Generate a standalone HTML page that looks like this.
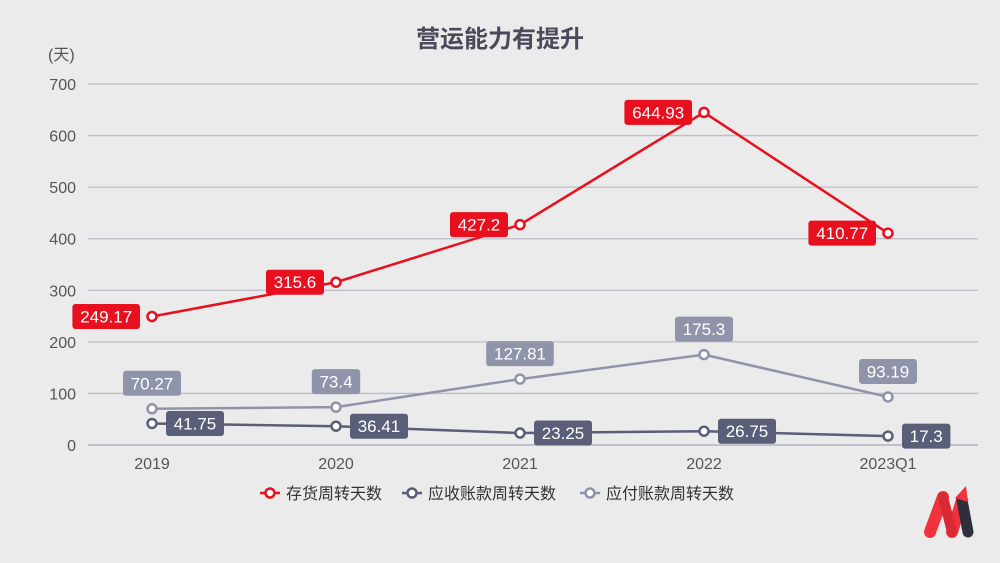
<!DOCTYPE html>
<html><head><meta charset="utf-8"><style>
html,body{margin:0;padding:0;background:#ebebeb;}
svg{display:block;font-family:"Liberation Sans","Noto Sans CJK SC",sans-serif;}
</style></head><body>
<svg id="chart" width="1000" height="563">
<text x="500" y="47" text-anchor="middle" font-size="24" font-weight="bold" fill="#4a4a5a">营运能力有提升</text>
<text x="48" y="60" font-size="16" fill="#555">(天)</text>
<g id="grid"></g><g id="series"></g>
<g font-size="16" fill="#333">
<g><line x1="260" y1="493" x2="280" y2="493" stroke="#e8101e" stroke-width="2.5"/><circle cx="270" cy="493" r="4.5" fill="#fff" stroke="#e8101e" stroke-width="2.5"/><text x="286" y="499">存货周转天数</text></g>
<g><line x1="402" y1="493" x2="422" y2="493" stroke="#5a5e78" stroke-width="2.5"/><circle cx="412" cy="493" r="4.5" fill="#fff" stroke="#5a5e78" stroke-width="2.5"/><text x="428" y="499">应收账款周转天数</text></g>
<g><line x1="580" y1="493" x2="600" y2="493" stroke="#9094ab" stroke-width="2.5"/><circle cx="590" cy="493" r="4.5" fill="#fff" stroke="#9094ab" stroke-width="2.5"/><text x="606" y="499">应付账款周转天数</text></g>
</g>
<g>
<path d="M930 532 L943 497 M952 532 L962 500" stroke="#f0323c" stroke-width="12" stroke-linecap="round" fill="none"/>
<path d="M943 497 L952 532" stroke="#d82a34" stroke-width="10" stroke-linecap="round"/>
<path d="M962 500 L968 532" stroke="#2d2f3a" stroke-width="11" stroke-linecap="round"/>
<path d="M955 498 L966 486 L968 502 Z" fill="#f0323c"/>
</g>
</svg>
<script>
const categories=["2019","2020","2021","2022","2023Q1"];
const inventoryDays=[249.17,315.6,427.2,644.93,410.77];
const receivableDays=[41.75,36.41,23.25,26.75,17.3];
const payableDays=[70.27,73.4,127.81,175.3,93.19];
const yTicks=[0,100,200,300,400,500,600,700];
const NS="http://www.w3.org/2000/svg";
const xs=i=>152+i*184;
const ys=v=>445-v*(361/700);
const grid=document.getElementById('grid');
const ser=document.getElementById('series');
function mk(tag,attrs,parent){const e=document.createElementNS(NS,tag);for(const k in attrs)e.setAttribute(k,attrs[k]);parent.appendChild(e);return e;}
yTicks.forEach(t=>{
  const l=mk('line',{x1:88,x2:978,y1:ys(t),y2:ys(t),stroke:t===0?'#a8a8b8':'#bcbccb','stroke-width':1.3},grid);
  
  
  const tx=mk('text',{x:76,y:ys(t)+6,'text-anchor':'end','font-size':16,fill:'#555'},grid);
  tx.textContent=t;
  
  
});
categories.forEach((c,i)=>{
  const tx=mk('text',{x:xs(i),y:469,'text-anchor':'middle','font-size':16,fill:'#555'},grid);
  tx.textContent=c;
  
  
});
function series(vals,color,name,pos){
  const g=mk('g',{},ser);
  
  
  const pl=mk('polyline',{points:vals.map((v,i)=>xs(i)+','+ys(v)).join(' '),fill:'none',stroke:color,'stroke-width':2.5},g);
  
  
  vals.forEach((v,i)=>{
    const x=xs(i),y=ys(v);
    const lab=String(v);const w=lab.length*9.6+10,h=25;
    let bx,by;
    if(pos==='left'){bx=x-12-w;by=y-h/2;}
    else if(pos==='right'){bx=x+14;by=y-h/2;}
    else{bx=x-w/2;by=y-h-13;}
    const r=mk('rect',{x:bx,y:by,width:w,height:h,rx:3,fill:color},g);
    
    
    const t=mk('text',{x:bx+w/2,y:by+18.5,'text-anchor':'middle','font-size':17,fill:'#fff'},g);
    t.textContent=lab;
    
    
    const c=mk('circle',{cx:x,cy:y,r:4.5,fill:'#fff',stroke:color,'stroke-width':2.5},g);
    
    
  });
}
series(payableDays,'#9094ab','payable','above');
series(receivableDays,'#5a5e78','receivable','right');
series(inventoryDays,'#e8101e','inventory','left');
</script>
</body></html>
